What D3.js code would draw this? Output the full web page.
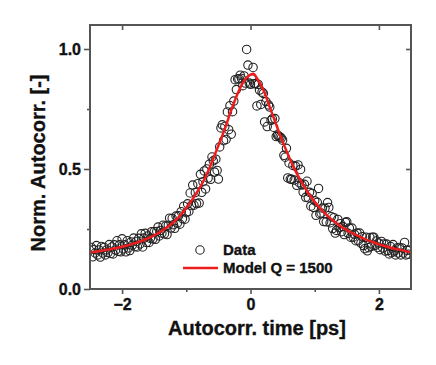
<!DOCTYPE html>
<html><head><meta charset="utf-8">
<script src="https://cdn.jsdelivr.net/npm/d3@7"></script>
<style>body{margin:0;background:#fff}svg{display:block}text{font-family:"Liberation Sans",Arial,sans-serif;font-weight:bold;fill:#111;stroke:#111;stroke-width:0.35px}</style>
</head><body><svg id="c" width="436" height="365"></svg>
<script>
const xTicks = [-2, 0, 2];
const xMinorTicks = [-1, 1];
const yTicks = [0, 0.5, 1.0];
const yMinorTicks = [0.25, 0.75];
const xTitle = "Autocorr. time [ps]";
const yTitle = "Norm. Autocorr. [-]";
const legendLabels = ["Data", "Model Q = 1500"];

// measured data (time [ps], normalized autocorrelation)
const dataT = [-2.48,-2.46,-2.44,-2.42,-2.40,-2.38,-2.36,-2.34,-2.32,-2.30,-2.28,-2.26,-2.24,-2.22,-2.20,-2.18,-2.16,-2.14,-2.12,-2.10,-2.08,-2.06,-2.04,-2.02,
-2.00,-1.98,-1.96,-1.94,-1.92,-1.90,-1.88,-1.86,-1.84,-1.82,-1.80,-1.78,-1.76,-1.74,-1.72,-1.70,-1.68,-1.66,-1.64,-1.62,-1.60,-1.58,-1.56,-1.54,-1.52,
-1.50,-1.48,-1.46,-1.44,-1.42,-1.40,-1.38,-1.36,-1.34,-1.32,-1.30,-1.28,-1.26,-1.24,-1.22,-1.20,-1.18,-1.16,-1.14,-1.12,-1.10,-1.08,-1.06,-1.04,-1.02,
-1.00,-0.98,-0.96,-0.94,-0.92,-0.90,-0.88,-0.86,-0.84,-0.82,-0.80,-0.78,-0.76,-0.74,-0.72,-0.70,-0.68,-0.66,-0.64,-0.62,-0.60,-0.58,-0.56,-0.54,-0.52,
-0.50,-0.48,-0.46,-0.44,-0.42,-0.40,-0.38,-0.36,-0.34,-0.32,-0.30,-0.28,-0.26,-0.24,-0.22,-0.20,-0.18,-0.16,-0.14,-0.12,-0.10,-0.08,-0.06,-0.04,-0.02,
0.00,0.02,0.04,0.06,0.08,0.10,0.12,0.14,0.16,0.18,0.20,0.22,0.24,0.26,0.28,0.30,0.32,0.34,0.36,0.38,0.40,0.42,0.44,0.46,0.48,
0.50,0.52,0.54,0.56,0.58,0.60,0.62,0.64,0.66,0.68,0.70,0.72,0.74,0.76,0.78,0.80,0.82,0.84,0.86,0.88,0.90,0.92,0.94,0.96,0.98,
1.00,1.02,1.04,1.06,1.08,1.10,1.12,1.14,1.16,1.18,1.20,1.22,1.24,1.26,1.28,1.30,1.32,1.34,1.36,1.38,1.40,1.42,1.44,1.46,1.48,
1.50,1.52,1.54,1.56,1.58,1.60,1.62,1.64,1.66,1.68,1.70,1.72,1.74,1.76,1.78,1.80,1.82,1.84,1.86,1.88,1.90,1.92,1.94,1.96,1.98,
2.00,2.02,2.04,2.06,2.08,2.10,2.12,2.14,2.16,2.18,2.20,2.22,2.24,2.26,2.28,2.30,2.32,2.34,2.36,2.38,2.40,2.42,2.44,2.46,2.48];
const dataV = [.173,.134,.164,.150,.181,.142,.163,.133,.177,.150,.173,.142,.163,.152,.185,.148,.175,.146,.184,.162,.201,.157,.184,.155,
.209,.167,.184,.155,.201,.171,.160,.196,.183,.212,.176,.198,.175,.211,.188,.230,.175,.212,.232,.194,.221,.194,.211,.239,.209,
.239,.207,.240,.258,.221,.244,.233,.266,.230,.263,.227,.266,.295,.254,.294,.268,.253,.304,.274,.305,.270,.322,.293,.345,.291,
.318,.355,.323,.400,.348,.433,.349,.402,.356,.439,.358,.478,.403,.447,.492,.417,.500,.462,.520,.457,.550,.534,.487,.541,.494,
.458,.592,.671,.684,.618,.677,.623,.738,.664,.764,.645,.739,.783,.872,.831,.875,.876,.891,.877,.847,.888,.858,.998,.933,.858,
.853,.875,.923,.855,.856,.763,.853,.829,.769,.820,.815,.696,.781,.677,.767,.758,.703,.709,.674,.710,.635,.641,.637,.633,.629,
.620,.557,.549,.586,.463,.525,.458,.457,.515,.454,.512,.432,.517,.443,.498,.433,.404,.436,.382,.449,.380,.403,.345,.398,.340,
.368,.307,.361,.419,.313,.317,.337,.281,.336,.280,.360,.340,.276,.301,.252,.297,.233,.244,.290,.256,.272,.239,.260,.227,.278,
.280,.232,.254,.216,.254,.216,.228,.201,.233,.201,.233,.191,.218,.181,.168,.216,.159,.172,.215,.178,.216,.216,.182,.200,.173,
.191,.164,.198,.171,.188,.158,.187,.160,.146,.177,.151,.185,.158,.142,.171,.150,.173,.142,.171,.150,.194,.142,.161,.145,.163];

// model curve
const modelT = [-2.5,-2.4,-2.3,-2.2,-2.1,-2.0,-1.9,-1.8,-1.7,-1.6,-1.5,-1.4,-1.3,-1.2,-1.1,-1.0,-0.9,-0.8,-0.7,-0.6,-0.5,-0.4,-0.3,-0.2,-0.1,0.0,0.05,0.1,0.2,0.3,0.4,0.5,0.6,0.7,0.8,0.9,1.0,1.1,1.2,1.3,1.4,1.5,1.6,1.7,1.8,1.9,2.0,2.1,2.2,2.3,2.4,2.5];
const modelV = [.152,.156,.160,.165,.170,.176,.183,.191,.200,.211,.224,.239,.257,.278,.305,.338,.375,.418,.467,.530,.598,.667,.745,.815,.868,.893,.897,.878,.830,.758,.685,.615,.550,.492,.443,.400,.363,.332,.305,.282,.262,.245,.231,.218,.206,.196,.186,.178,.171,.165,.159,.152];

const svg = d3.select("#c");
const L = 90, R = 411, T = 25, B = 289;
const x = d3.scaleLinear().domain([-2.5, 2.5]).range([L, R]);
const y = d3.scaleLinear().domain([0, 1.1]).range([B, T]);
const axisCol = "#555";

svg.append("clipPath").attr("id","pc").append("rect")
  .attr("x", L).attr("y", T).attr("width", R - L).attr("height", B - T);

const plot = svg.append("g").attr("clip-path","url(#pc)");
plot.selectAll("circle.d").data(dataT.map((t,i)=>[t,dataV[i]])).join("circle")
  .attr("class","d").attr("cx", d=>x(d[0])).attr("cy", d=>y(d[1])).attr("r", 4.2)
  .attr("fill","none").attr("stroke","#222").attr("stroke-width",1.1);

const line = d3.line().x(d=>x(d[0])).y(d=>y(d[1])).curve(d3.curveMonotoneX);
plot.append("path").datum(modelT.map((t,i)=>[t,modelV[i]]))
  .attr("d", line).attr("fill","none").attr("stroke","#ee1c1c").attr("stroke-width",2.5);

function styleAxis(g){
  g.select(".domain").remove();
  g.selectAll(".tick line").attr("stroke", axisCol).attr("stroke-width", 1.6);
  g.selectAll(".tick text").style("font-size","16px").attr("fill","#111");
}
// bottom
svg.append("g").attr("transform",`translate(0,${B})`)
  .call(d3.axisBottom(x).tickValues(xTicks).tickFormat(d3.format("d")).tickSize(5).tickPadding(5))
  .call(styleAxis);
svg.append("g").attr("transform",`translate(0,${B})`)
  .call(d3.axisBottom(x).tickValues(xMinorTicks).tickFormat("").tickSize(3)).call(styleAxis);
// left
svg.append("g").attr("transform",`translate(${L},0)`)
  .call(d3.axisLeft(y).tickValues(yTicks).tickFormat(d3.format(".1f")).tickSize(6).tickPadding(3))
  .call(styleAxis);
svg.append("g").attr("transform",`translate(${L},0)`)
  .call(d3.axisLeft(y).tickValues(yMinorTicks).tickFormat("").tickSize(3)).call(styleAxis);
// top (inward)
svg.append("g").attr("transform",`translate(0,${T})`)
  .call(d3.axisTop(x).tickValues(xTicks).tickFormat("").tickSize(-5)).call(styleAxis);
// right (inward)
svg.append("g").attr("transform",`translate(${R},0)`)
  .call(d3.axisRight(y).tickValues(yTicks.slice(1)).tickFormat("").tickSize(-5)).call(styleAxis);

svg.append("rect").attr("x",L).attr("y",T).attr("width",R-L).attr("height",B-T)
  .attr("fill","none").attr("stroke",axisCol).attr("stroke-width",2);

svg.append("text").attr("x", 257).attr("y", 335).attr("text-anchor","middle")
  .style("font-size","20px").text(xTitle);
svg.append("text").attr("transform",`translate(45,163) rotate(-90)`).attr("text-anchor","middle")
  .style("font-size","20px").text(yTitle);

// legend
const lg = svg.append("g");
lg.append("circle").attr("cx",200).attr("cy",250).attr("r",4.2).attr("fill","none").attr("stroke","#222").attr("stroke-width",1.1);
lg.append("text").attr("x",223).attr("y",250).attr("dy","0.36em").style("font-size","15px").text(legendLabels[0]);
lg.append("line").attr("x1",183).attr("x2",218).attr("y1",268).attr("y2",268).attr("stroke","#ee1c1c").attr("stroke-width",2.5);
lg.append("text").attr("x",223).attr("y",268).attr("dy","0.36em").style("font-size","15px").text(legendLabels[1]);
</script></body></html>
